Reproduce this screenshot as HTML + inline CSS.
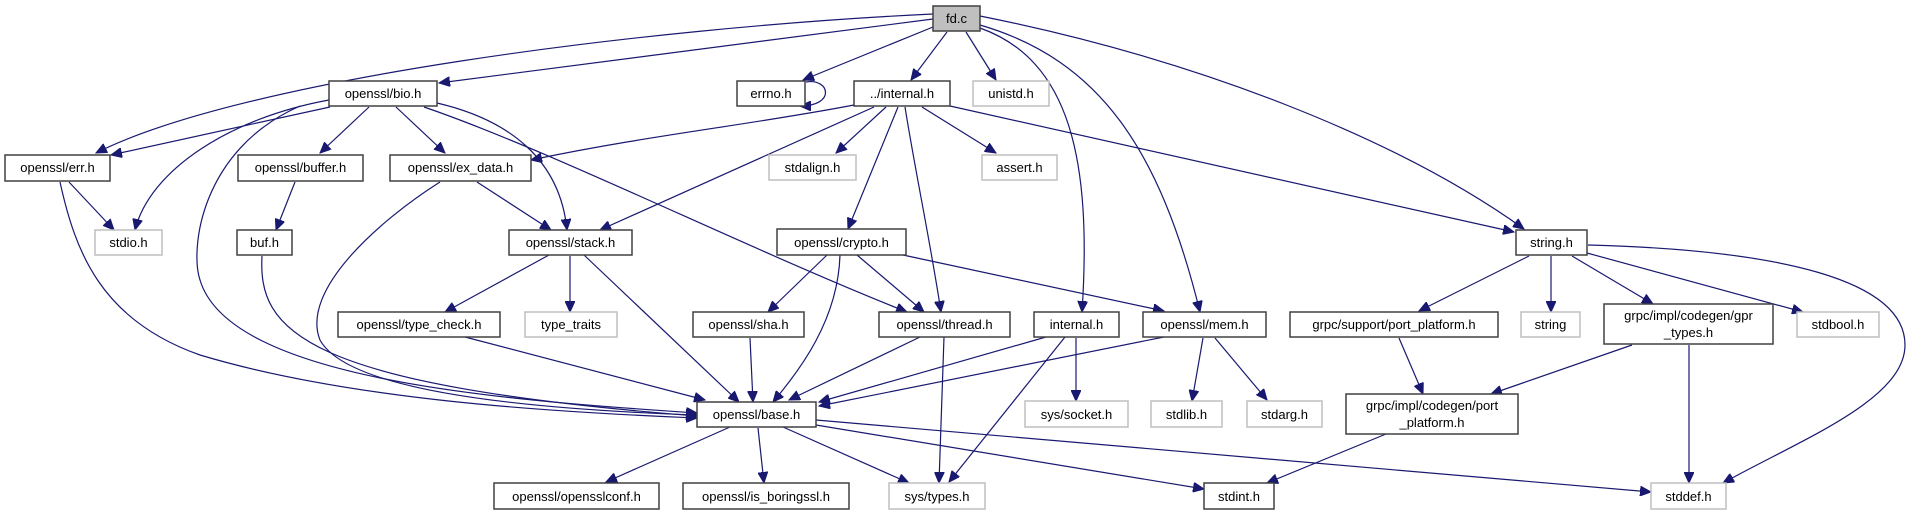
<!DOCTYPE html>
<html><head><meta charset="utf-8"><style>
html,body{margin:0;padding:0;background:#fff;}
body{width:1912px;height:515px;overflow:hidden;}
svg text{font-family:"Liberation Sans",sans-serif;font-size:13px;fill:#000;}
</style></head><body>
<svg width="1912" height="515" viewBox="0 0 1912 515" xmlns="http://www.w3.org/2000/svg">
<defs>
<marker id="a" markerUnits="userSpaceOnUse" markerWidth="12" markerHeight="10" refX="11" refY="5" orient="auto">
<path d="M0,0 L11,5 L0,10 Z" fill="#191970" stroke="#191970"/>
</marker>
</defs>
<g fill="none" stroke="#191970" stroke-width="1.2" marker-end="url(#a)">
<path d="M933,14 C640,28 240,80 96,153"/>
<path d="M933,19 L439,83"/>
<path d="M933,27 L803,80"/>
<path d="M947,32 L911,80"/>
<path d="M966,32 L996,80"/>
<path d="M980,28 C1070,60 1092,160 1082,312"/>
<path d="M980,25 C1100,60 1160,150 1200,312"/>
<path d="M980,16 C1200,60 1400,140 1524,229"/>
<path d="M806,82 C830,78 836,106 800,106"/>
<path d="M330,107 L111,155"/>
<path d="M329,100 C230,118 150,170 135,230"/>
<path d="M300,106 C200,150 190,250 200,280 C230,380 500,400 697,413"/>
<path d="M369,107 L320,153"/>
<path d="M396,107 L445,153"/>
<path d="M437,103 C510,120 560,160 567,230"/>
<path d="M424,107 C550,150 750,250 907,312"/>
<path d="M854,105 C750,125 650,135 531,160"/>
<path d="M874,107 L600,230"/>
<path d="M886,107 L836,153"/>
<path d="M898,107 L848,229"/>
<path d="M905,107 C915,170 930,240 941,312"/>
<path d="M922,107 L996,153"/>
<path d="M950,106 L1514,232"/>
<path d="M69,182 L114,230"/>
<path d="M60,182 C75,250 100,320 200,355 C350,400 550,412 697,418"/>
<path d="M295,182 L276,230"/>
<path d="M262,256 C258,330 300,385 697,416"/>
<path d="M477,182 L551,230"/>
<path d="M440,182 C380,220 300,290 320,340 C350,395 550,410 697,415"/>
<path d="M549,255 L445,312"/>
<path d="M570,256 L570,312"/>
<path d="M584,255 L739,402"/>
<path d="M465,337 L705,400"/>
<path d="M827,255 L768,312"/>
<path d="M840,255 C838,320 800,370 773,402"/>
<path d="M857,255 L924,312"/>
<path d="M903,255 L1164,311"/>
<path d="M750,338 L753,402"/>
<path d="M920,337 L789,400"/>
<path d="M944,337 L939,483"/>
<path d="M1046,337 L819,402"/>
<path d="M1076,338 L1076,401"/>
<path d="M1065,337 L949,482"/>
<path d="M1164,337 L819,406"/>
<path d="M1203,338 L1192,401"/>
<path d="M1215,338 L1267,400"/>
<path d="M730,427 L606,482"/>
<path d="M758,428 L764,483"/>
<path d="M783,427 L909,483"/>
<path d="M816,425 L1204,489"/>
<path d="M816,420 L1651,492"/>
<path d="M1529,256 L1419,311"/>
<path d="M1551,256 L1551,312"/>
<path d="M1572,256 L1653,304"/>
<path d="M1587,253 L1803,312"/>
<path d="M1588,245 C1780,250 1905,280 1905,345 C1905,400 1800,440 1723,483"/>
<path d="M1399,338 L1423,394"/>
<path d="M1632,345 L1491,394"/>
<path d="M1689,345 L1689,483"/>
<path d="M1386,434 L1267,483"/>
</g>
<g stroke-width="1.5">
<rect x="933" y="6" width="47" height="25" fill="#bfbfbf" stroke="#404040"/>
<g fill="#fff" stroke="#404040">
<rect x="329" y="81" width="108" height="25"/>
<rect x="737" y="81" width="68" height="25"/>
<rect x="854" y="81" width="96" height="25"/>
<rect x="5" y="155" width="105" height="26"/>
<rect x="238" y="155" width="125" height="26"/>
<rect x="390" y="155" width="141" height="26"/>
<rect x="237" y="230" width="55" height="25"/>
<rect x="509" y="230" width="123" height="25"/>
<rect x="777" y="229" width="129" height="26"/>
<rect x="1516" y="230" width="71" height="25"/>
<rect x="338" y="312" width="162" height="25"/>
<rect x="693" y="312" width="111" height="25"/>
<rect x="879" y="312" width="131" height="25"/>
<rect x="1034" y="312" width="85" height="25"/>
<rect x="1143" y="312" width="123" height="25"/>
<rect x="1290" y="312" width="208" height="25"/>
<rect x="1604" y="304" width="169" height="40"/>
<rect x="697" y="402" width="119" height="25"/>
<rect x="1346" y="394" width="172" height="40"/>
<rect x="494" y="483" width="165" height="26"/>
<rect x="683" y="483" width="166" height="26"/>
<rect x="1204" y="483" width="70" height="26"/>
</g>
<g fill="#fff" stroke="#bfbfbf">
<rect x="973" y="81" width="76" height="25"/>
<rect x="769" y="155" width="87" height="25"/>
<rect x="982" y="155" width="75" height="25"/>
<rect x="95" y="230" width="67" height="25"/>
<rect x="525" y="312" width="92" height="25"/>
<rect x="1521" y="312" width="59" height="25"/>
<rect x="1797" y="312" width="82" height="25"/>
<rect x="1025" y="401" width="103" height="26"/>
<rect x="1151" y="401" width="71" height="26"/>
<rect x="1247" y="401" width="75" height="26"/>
<rect x="889" y="483" width="96" height="26"/>
<rect x="1651" y="483" width="75" height="26"/>
</g>
</g>
<g text-anchor="middle">
<text x="956.5" y="23">fd.c</text>
<text x="383" y="98">openssl/bio.h</text>
<text x="771" y="98">errno.h</text>
<text x="902" y="98">../internal.h</text>
<text x="1011" y="98">unistd.h</text>
<text x="57.5" y="172">openssl/err.h</text>
<text x="300.5" y="172">openssl/buffer.h</text>
<text x="460.5" y="172">openssl/ex_data.h</text>
<text x="812.5" y="172">stdalign.h</text>
<text x="1019.5" y="172">assert.h</text>
<text x="128.5" y="247">stdio.h</text>
<text x="264.5" y="247">buf.h</text>
<text x="570.5" y="247">openssl/stack.h</text>
<text x="841.5" y="247">openssl/crypto.h</text>
<text x="1551.5" y="247">string.h</text>
<text x="419" y="329">openssl/type_check.h</text>
<text x="571" y="329">type_traits</text>
<text x="748.5" y="329">openssl/sha.h</text>
<text x="944.5" y="329">openssl/thread.h</text>
<text x="1076.5" y="329">internal.h</text>
<text x="1204.5" y="329">openssl/mem.h</text>
<text x="1394" y="329">grpc/support/port_platform.h</text>
<text x="1550.5" y="329">string</text>
<text x="1838" y="329">stdbool.h</text>
<text x="1688.5" y="320">grpc/impl/codegen/gpr</text>
<text x="1688.5" y="337">_types.h</text>
<text x="756.5" y="419">openssl/base.h</text>
<text x="1076.5" y="419">sys/socket.h</text>
<text x="1186.5" y="419">stdlib.h</text>
<text x="1284.5" y="419">stdarg.h</text>
<text x="1432" y="410">grpc/impl/codegen/port</text>
<text x="1432" y="427">_platform.h</text>
<text x="576.5" y="501">openssl/opensslconf.h</text>
<text x="766" y="501">openssl/is_boringssl.h</text>
<text x="937" y="501">sys/types.h</text>
<text x="1239" y="501">stdint.h</text>
<text x="1688.5" y="501">stddef.h</text>
</g>
</svg>
</body></html>
